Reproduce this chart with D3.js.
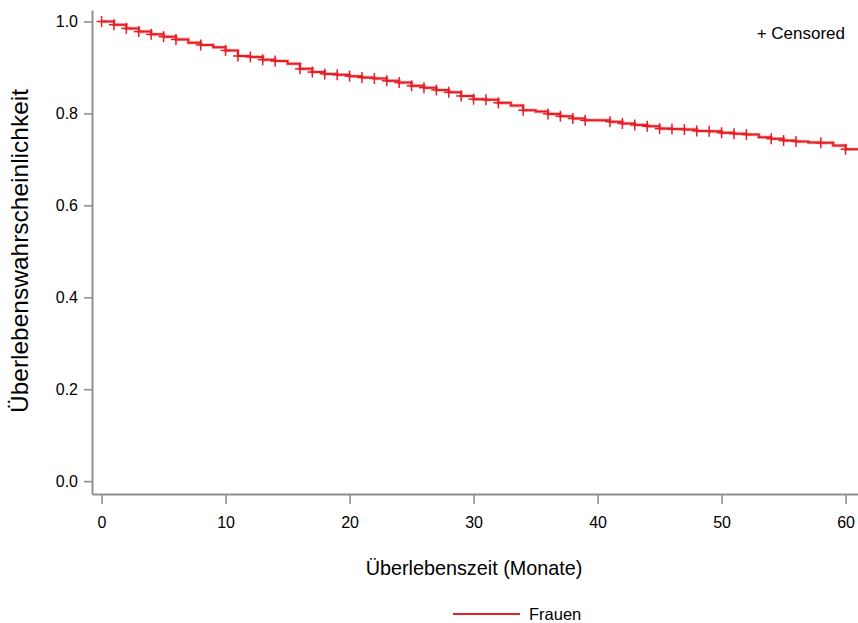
<!DOCTYPE html>
<html>
<head>
<meta charset="utf-8">
<script src="https://cdn.jsdelivr.net/npm/d3@7"></script>
<style>
  html, body { margin: 0; padding: 0; background: #fff; }
  svg { display: block; font-family: "Liberation Sans", Arial, sans-serif; }
</style>
</head>
<body>
<svg id="chart" width="858" height="623"></svg>
<script>
// ---- data ----
const stepTimes = [0,1,2,3,4,5,6,7,8,9,10,11,12,13,14,15,16,17,18,19,20,21,22,23,24,25,26,27,28,29,30,31,32,33,34,35,36,37,38,39,41,42,43,44,45,46,47,48,49,50,51,52,53,54,55,56,57,58,59,60];
const survival = [1.000,0.993,0.985,0.978,0.972,0.967,0.961,0.954,0.949,0.944,0.937,0.925,0.923,0.917,0.914,0.908,0.897,0.890,0.886,0.884,0.881,0.878,0.876,0.871,0.867,0.860,0.856,0.851,0.846,0.838,0.831,0.830,0.823,0.817,0.807,0.804,0.799,0.794,0.789,0.785,0.782,0.778,0.775,0.772,0.767,0.766,0.765,0.762,0.761,0.758,0.756,0.754,0.748,0.745,0.741,0.739,0.737,0.736,0.730,0.722];
const lastFollowUp = 61;
const censorTimes = [0,1,2,3,4,5,6,8,10,11,12,13,14,16,17,18,19,20,21,22,23,24,25,26,27,28,29,30,31,32,34,36,37,38,39,41,42,43,44,45,46,47,48,49,50,51,52,54,55,56,58,60];
const xTicks = [0,10,20,30,40,50,60];
const yTicks = [0.0,0.2,0.4,0.6,0.8,1.0];
const groupName = "Frauen";
const xTitle = "Überlebenszeit (Monate)";
const yTitle = "Überlebenswahrscheinlichkeit";

// ---- layout ----
const red = "#e41f26";
const axisGray = "#8f8f8f";
const svg = d3.select("#chart");

const x = d3.scaleLinear().domain([-0.77, 61.0]).range([92, 858]);
const y = d3.scaleLinear().domain([-0.028, 1.025]).range([494, 10]);

// axes
const yAxis = d3.axisLeft(y).tickValues(yTicks).tickFormat(d3.format(".1f"))
  .tickSize(8).tickSizeOuter(0).tickPadding(6);
const xAxis = d3.axisBottom(x).tickValues(xTicks).tickFormat(d3.format("d"))
  .tickSize(10).tickSizeOuter(0).tickPadding(13);

const gy = svg.append("g").attr("transform", "translate(92,0)").call(yAxis);
const gx = svg.append("g").attr("transform", "translate(0,494)").call(xAxis);
[gx, gy].forEach(g => {
  g.select(".domain").attr("stroke", axisGray).attr("stroke-width", 2);
  g.selectAll(".tick line").attr("stroke", axisGray).attr("stroke-width", 1.6);
  g.selectAll(".tick text").attr("fill", "#000").attr("font-size", 16)
    .attr("font-family", "Liberation Sans, Arial, sans-serif");
});

// curve
const pts = stepTimes.map((t, i) => [t, survival[i]]);
pts.push([lastFollowUp, survival[survival.length - 1]]);
const line = d3.line().x(d => x(d[0])).y(d => y(d[1])).curve(d3.curveStepAfter);
svg.append("path").datum(pts).attr("d", line)
  .attr("fill", "none").attr("stroke", "#f08a8d").attr("stroke-width", 3.6).attr("opacity", 0.6);
svg.append("path").datum(pts).attr("d", line)
  .attr("fill", "none").attr("stroke", red).attr("stroke-width", 2);

// censor marks
const survAt = t => {
  let v = survival[0];
  for (let i = 0; i < stepTimes.length; i++) if (stepTimes[i] <= t) v = survival[i];
  return v;
};
const cm = svg.append("g").attr("stroke", red).attr("stroke-width", 1.5);
censorTimes.forEach(t => {
  const cx = x(t), cy = y(survAt(t));
  cm.append("line").attr("x1", cx - 5).attr("x2", cx + 5).attr("y1", cy).attr("y2", cy);
  cm.append("line").attr("x1", cx).attr("x2", cx).attr("y1", cy - 5.5).attr("y2", cy + 5.5);
});

// titles
svg.append("text").attr("x", 474).attr("y", 575).attr("text-anchor", "middle")
  .attr("font-size", 19.8).attr("fill", "#000").text(xTitle);
svg.append("text").attr("transform", "translate(28,251) rotate(-90)")
  .attr("text-anchor", "middle").attr("font-size", 24.5).attr("fill", "#000").text(yTitle);

// censored note
svg.append("text").attr("x", 845).attr("y", 39).attr("text-anchor", "end")
  .attr("font-size", 17).attr("fill", "#000").text("+ Censored");

// legend
svg.append("line").attr("x1", 453).attr("x2", 520).attr("y1", 614).attr("y2", 614)
  .attr("stroke", red).attr("stroke-width", 2);
svg.append("text").attr("x", 529).attr("y", 620).attr("font-size", 16.5)
  .attr("fill", "#000").text(groupName);
</script>
</body>
</html>
